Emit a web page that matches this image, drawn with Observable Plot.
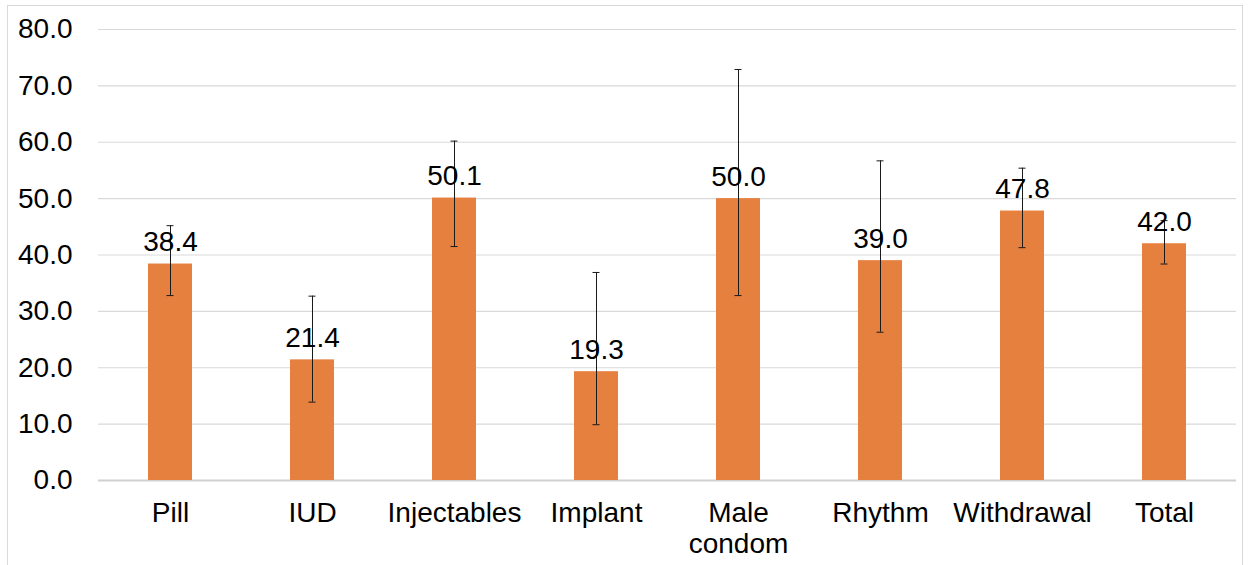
<!DOCTYPE html>
<html>
<head>
<meta charset="utf-8">
<script src="https://cdn.jsdelivr.net/npm/d3@7"></script>
<script src="https://cdn.jsdelivr.net/npm/@observablehq/plot@0.6"></script>
<style>
  html, body { margin: 0; padding: 0; background: #fff; }
  #wrap { position: relative; width: 1250px; height: 565px; overflow: hidden; }
  #border { position: absolute; left: 7px; top: 5px; width: 1236px; height: 600px; border: 1px solid #d9d9d9; box-sizing: border-box; }
  #chart { position: absolute; left: 0; top: 0; }
</style>
</head>
<body>
<div id="wrap"><div id="border"></div><div id="chart"></div></div>
<script>
const methods = ["Pill", "IUD", "Injectables", "Implant", "Male condom", "Rhythm", "Withdrawal", "Total"];
const values  = [38.4, 21.4, 50.1, 19.3, 50.0, 39.0, 47.8, 42.0];
const upper   = [45.2, 32.7, 60.2, 36.9, 72.9, 56.7, 55.4, 46.1];
const lower   = [32.8, 13.9, 41.5, 9.9, 32.8, 26.3, 41.3, 38.4];
const yTicks  = [0, 10, 20, 30, 40, 50, 60, 70, 80];
const tickLabels = {"Male condom": "Male\ncondom"};

const data = methods.map((m, i) => ({method: m, value: values[i], hi: upper[i], lo: lower[i]}));

const chart = Plot.plot({
  width: 1250,
  height: 565,
  marginLeft: 98,
  marginRight: 14,
  marginTop: 29,
  marginBottom: 85,
  style: {fontFamily: "'Liberation Sans', Arial, sans-serif", fontSize: "28px", color: "#000", background: "transparent"},
  x: {domain: methods, paddingInner: 0.69, paddingOuter: 0.345, label: null},
  y: {domain: [0, 80], label: null},
  marks: [
    Plot.gridY(yTicks.filter(d => d > 0), {stroke: "#d9d9d9", strokeOpacity: 1, strokeWidth: 1.2}),
    Plot.ruleY([0], {stroke: "#d0d0d0", strokeWidth: 2}),
    Plot.barY(data, {x: "method", y: "value", fill: "#E6803F"}),
    Plot.ruleX(data, {x: "method", y1: "lo", y2: "hi", stroke: "#1a1a1a", strokeWidth: 1}),
    Plot.tickY(data, {x: "method", y: "hi", stroke: "#1a1a1a", strokeWidth: 1, insetLeft: 18.5, insetRight: 18.5}),
    Plot.tickY(data, {x: "method", y: "lo", stroke: "#1a1a1a", strokeWidth: 1, insetLeft: 18.5, insetRight: 18.5}),
    Plot.text(data, {x: "method", y: "value", text: d => d.value.toFixed(1), lineAnchor: "bottom", dy: -13, fill: "#000", fontSize: 28}),
    Plot.axisY({ticks: yTicks, tickFormat: d => d.toFixed(1), tickSize: 0, tickPadding: 26, fontSize: 28, label: null}),
    Plot.axisX({tickSize: 0, tickPadding: 19, fontSize: 28, lineHeight: 1.12, tickFormat: d => tickLabels[d] ?? d, label: null})
  ]
});
document.getElementById("chart").appendChild(chart);
</script>
</body>
</html>
